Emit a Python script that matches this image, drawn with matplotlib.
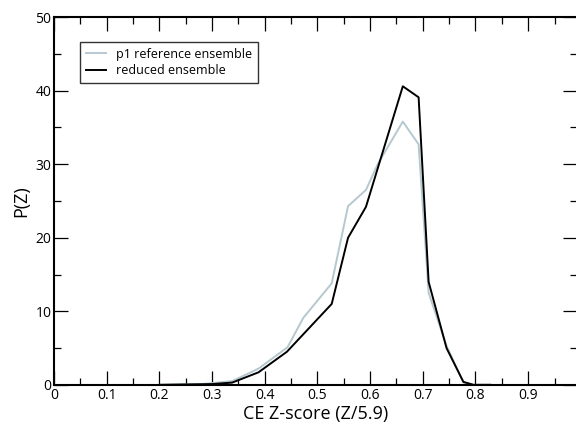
import matplotlib
matplotlib.use("Agg")
import matplotlib.pyplot as plt
from matplotlib.ticker import MultipleLocator

plt.rcParams['font.family'] = ['Open Sans', 'DejaVu Sans']

# p1 reference ensemble (light blue-grey)
ref_x = [0.20, 0.28, 0.338, 0.388, 0.443, 0.473, 0.527, 0.558, 0.592, 0.615, 0.662, 0.692, 0.711, 0.745, 0.777, 0.796, 0.828]
ref_y = [0.0, 0.1, 0.5, 2.2, 5.1, 9.1, 13.8, 24.3, 26.5, 30.1, 35.8, 32.7, 12.5, 5.3, 0.3, 0.0, 0.0]

# reduced ensemble (black)
red_x = [0.20, 0.30, 0.338, 0.388, 0.442, 0.527, 0.558, 0.592, 0.662, 0.692, 0.711, 0.745, 0.777, 0.796, 0.828]
red_y = [0.0, 0.1, 0.3, 1.7, 4.5, 11.0, 20.0, 24.2, 40.6, 39.1, 14.0, 5.0, 0.4, 0.0, 0.0]

fig = plt.figure(figsize=(5.76, 4.29), dpi=100)
ax = fig.add_axes([0.094, 0.103, 0.908, 0.857])

ax.plot(ref_x, ref_y, color='#b5c8d0', lw=1.4, label='p1 reference ensemble')
ax.plot(red_x, red_y, color='black', lw=1.4, label='reduced ensemble')

ax.set_xlim(0, 0.993)
ax.set_ylim(0, 50)
ax.xaxis.set_minor_locator(MultipleLocator(0.05))
ax.yaxis.set_major_locator(MultipleLocator(10))
ax.yaxis.set_minor_locator(MultipleLocator(5))
ax.set_xticks([0, 0.1, 0.2, 0.3, 0.4, 0.5, 0.6, 0.7, 0.8, 0.9])
ax.set_xticklabels(['0', '0.1', '0.2', '0.3', '0.4', '0.5', '0.6', '0.7', '0.8', '0.9'])
ax.tick_params(which='both', direction='in', top=True, right=True, labelsize=10, pad=2)
ax.tick_params(which='major', length=10, width=0.9)
ax.tick_params(which='minor', length=5, width=0.9)
for s in ax.spines.values():
    s.set_linewidth(1.5)

ax.set_xlabel('CE Z-score (Z/5.9)', fontsize=13, labelpad=2)
ax.set_ylabel('P(Z)', fontsize=13, labelpad=4)

leg = ax.legend(loc='upper left', bbox_to_anchor=(0.05, 0.932), borderaxespad=0,
                fontsize=9, frameon=True, fancybox=False, edgecolor='black',
                handlelength=1.6, borderpad=0.45, labelspacing=0.25)
leg.get_frame().set_linewidth(1.0)

fig.savefig('out.png', dpi=100)
